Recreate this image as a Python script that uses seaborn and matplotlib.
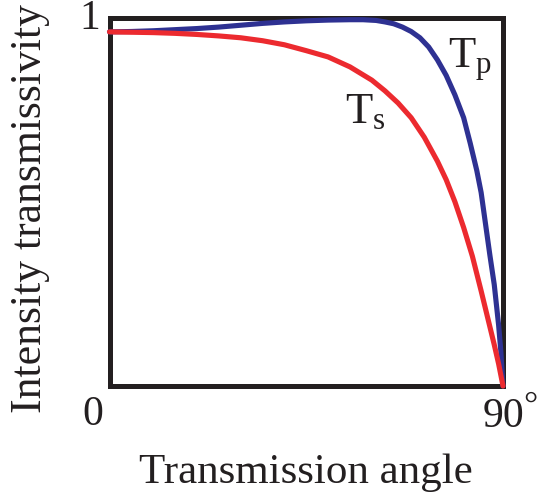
import numpy as np
import pandas as pd
import seaborn as sns
import matplotlib
matplotlib.use("Agg")
import matplotlib.pyplot as plt

# ---- data (angle in degrees, intensity transmissivity) ----
angle_s = [0, 5, 10, 15, 20, 25, 30, 35, 40, 45, 50, 55, 60, 63, 66, 69, 72, 75, 77, 79,
           81, 83, 85, 86.5, 88, 89, 90]
ts = [0.961, 0.960, 0.959, 0.957, 0.954, 0.950, 0.945, 0.937, 0.926, 0.910, 0.893, 0.866, 0.830,
      0.801, 0.768, 0.728, 0.675, 0.610, 0.560, 0.500, 0.430, 0.352, 0.258, 0.185, 0.112, 0.060, 0.0]

angle_p = [0, 5, 10, 15, 20, 25, 30, 35, 40, 45, 50, 55, 58, 61, 63, 65, 67, 69, 71, 73, 75,
           77, 79, 81, 82.5, 84, 85, 86, 87, 88, 89, 89.5, 90]
tp = [0.961, 0.962, 0.964, 0.967, 0.970, 0.974, 0.979, 0.984, 0.988, 0.991, 0.993, 0.994, 0.994,
      0.992, 0.988, 0.983, 0.974, 0.962, 0.945, 0.920, 0.885, 0.843, 0.790, 0.728, 0.659, 0.585,
      0.525, 0.440, 0.355, 0.275, 0.165, 0.095, 0.0]

x_ticks = [0, 90]
x_tick_labels = ["0", "90"]
y_tick_label = "1"
series_labels = ["T$_\\mathrm{s}$", "T$_\\mathrm{p}$"]
x_title = "Transmission angle"
y_title = "Intensity transmissivity"

RED = "#ec2a2f"
BLUE = "#2e3192"
INK = "#231f20"

sns.set_theme(style="white")
plt.rcParams["font.family"] = ["Liberation Serif", "DejaVu Serif"]
plt.rcParams["mathtext.fontset"] = "custom"
plt.rcParams["mathtext.rm"] = "Liberation Serif"
plt.rcParams["mathtext.it"] = "Liberation Serif:italic"
plt.rcParams["mathtext.bf"] = "Liberation Serif:bold"

df_s = pd.DataFrame({"angle": angle_s, "T": ts})
df_p = pd.DataFrame({"angle": angle_p, "T": tp})

fig = plt.figure(figsize=(5.38, 4.92), dpi=100)
ax = fig.add_axes([109.5 / 538, 1 - 386 / 492, 393.5 / 538, 368.5 / 492])

sns.lineplot(data=df_p, x="angle", y="T", ax=ax, color=BLUE, linewidth=3.7,
             estimator=None, sort=False, zorder=5, clip_on=False)
sns.lineplot(data=df_s, x="angle", y="T", ax=ax, color=RED, linewidth=3.7,
             estimator=None, sort=False, zorder=6, clip_on=False)
for ln in ax.get_lines():
    ln.set_solid_joinstyle("round")

ax.set_xlim(0, 90)
ax.set_ylim(0, 1)
ax.set_xticks([])
ax.set_yticks([])
for sp in ax.spines.values():
    sp.set_visible(True)
    sp.set_linewidth(3.6)
    sp.set_color(INK)
    sp.set_zorder(4)

ax.set_xlabel(x_title, fontsize=31, color=INK)
ax.xaxis.set_label_coords(0.5, -0.182)
ax.set_ylabel(y_title, fontsize=31.5, color=INK)
ax.yaxis.set_label_coords(-0.151, 0.482)

# tick-like labels
ax.text(-3.77, -0.106, x_tick_labels[0], fontsize=30, color=INK, ha="center", va="baseline", clip_on=False)
ax.text(x_ticks[1], -0.111, x_tick_labels[1], fontsize=30, color=INK, ha="center", va="baseline", clip_on=False)
ax.text(94.6, -0.082, "\u00b0", fontsize=25.5, color=INK, ha="left", va="baseline", clip_on=False)
ax.text(-2.2, 0.969, y_tick_label, fontsize=30, color=INK, ha="right", va="baseline", clip_on=False)

# series labels
ax.text(53.9, 0.714, series_labels[0], fontsize=32, color=INK, ha="left", va="baseline")
ax.text(77.4, 0.863, series_labels[1], fontsize=32, color=INK, ha="left", va="baseline")

fig.savefig("out.png", dpi=100)
